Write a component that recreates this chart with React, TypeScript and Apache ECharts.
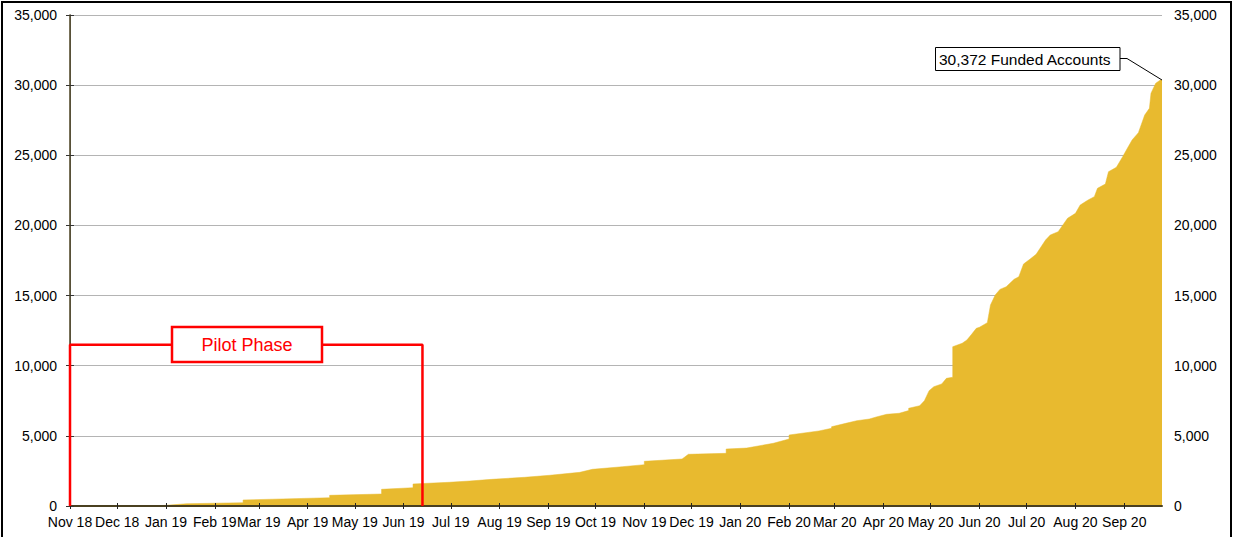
import React, { useEffect, useRef } from "react";
import * as echarts from "echarts";

const FONT = '"Liberation Sans", Arial, Helvetica, sans-serif';
const AREA_COLOR = "#E8BA2F";

// Cumulative funded accounts (date, value)
const accountDates = [
  "2018-11-01", "2018-12-26", "2019-01-14", "2019-02-19", "2019-02-19", "2019-04-15", "2019-04-15",
  "2019-05-18", "2019-05-18", "2019-06-07", "2019-06-07", "2019-06-30", "2019-07-13", "2019-07-27",
  "2019-08-17", "2019-09-02", "2019-09-21", "2019-09-29", "2019-10-18", "2019-11-01", "2019-11-01",
  "2019-11-25", "2019-11-29", "2019-12-23", "2019-12-23", "2020-01-05", "2020-01-22", "2020-02-01",
  "2020-02-01", "2020-02-20", "2020-02-28", "2020-02-28", "2020-03-08", "2020-03-15", "2020-03-23",
  "2020-03-28", "2020-04-03", "2020-04-11", "2020-04-17", "2020-04-17", "2020-04-24", "2020-04-27",
  "2020-04-30", "2020-05-03", "2020-05-08", "2020-05-11", "2020-05-15", "2020-05-15", "2020-05-21",
  "2020-05-24", "2020-05-27", "2020-05-30", "2020-06-01", "2020-06-06", "2020-06-08", "2020-06-11",
  "2020-06-14", "2020-06-18", "2020-06-23", "2020-06-26", "2020-06-29", "2020-07-03", "2020-07-07",
  "2020-07-13", "2020-07-16", "2020-07-21", "2020-07-27", "2020-08-01", "2020-08-04", "2020-08-09",
  "2020-08-13", "2020-08-15", "2020-08-20", "2020-08-22", "2020-08-27", "2020-08-31", "2020-09-03",
  "2020-09-06", "2020-09-10", "2020-09-14", "2020-09-17", "2020-09-18", "2020-09-21", "2020-09-24",
  "2020-09-25",
];
const accountValues = [
  0, 0, 160, 235, 430, 590, 760,
  855, 1190, 1305, 1570, 1690, 1780, 1900,
  2045, 2190, 2400, 2615, 2800, 2945, 3185,
  3350, 3685, 3755, 4060, 4130, 4470, 4775,
  5060, 5350, 5540, 5650, 5890, 6080, 6200,
  6365, 6535, 6610, 6800, 6965, 7150, 7505,
  8220, 8505, 8700, 9100, 9175, 11355, 11600,
  11830, 12240, 12665, 12740, 13070, 14330, 15040,
  15440, 15630, 16160, 16345, 17250, 17585, 17940,
  18960, 19320, 19550, 20510, 20860, 21455, 21810,
  22050, 22645, 22950, 23830, 24140, 24900, 25500,
  26090, 26610, 27870, 28350, 29420, 30130, 30372,
  30372,
];

// Pilot phase bracket
const pilotDates = ["2018-11-01", "2018-11-01", "2019-06-13", "2019-06-13"];
const pilotValues = [0, 11500, 11500, 0];

// X axis ticks
const monthStarts = [
  "2018-11-01", "2018-12-01", "2019-01-01", "2019-02-01", "2019-03-01", "2019-04-01", "2019-05-01",
  "2019-06-01", "2019-07-01", "2019-08-01", "2019-09-01", "2019-10-01", "2019-11-01", "2019-12-01",
  "2020-01-01", "2020-02-01", "2020-03-01", "2020-04-01", "2020-05-01", "2020-06-01", "2020-07-01",
  "2020-08-01", "2020-09-01",
];
const monthLabels = [
  "Nov 18", "Dec 18", "Jan 19", "Feb 19", "Mar 19", "Apr 19", "May 19",
  "Jun 19", "Jul 19", "Aug 19", "Sep 19", "Oct 19", "Nov 19", "Dec 19",
  "Jan 20", "Feb 20", "Mar 20", "Apr 20", "May 20", "Jun 20", "Jul 20",
  "Aug 20", "Sep 20",
];
const xMin = "2018-11-01";
const xMax = "2020-09-25";

const yMin = 0;
const yMax = 35000;
const yStep = 5000;

const annotationText = "30,372 Funded Accounts";
const pilotText = "Pilot Phase";

// days since xMin
function dayOf(s: string): number {
  const [y, m, d] = s.split("-").map(Number);
  const [y0, m0, d0] = xMin.split("-").map(Number);
  return Math.round((Date.UTC(y, m - 1, d) - Date.UTC(y0, m0 - 1, d0)) / 86400000);
}

export default function App() {
  const ref = useRef<HTMLDivElement>(null);

  useEffect(() => {
    document.body.style.margin = "0";
    if (!ref.current) return;
    const chart = echarts.init(ref.current, null, { renderer: "svg" });
    const monthDays = monthStarts.map(dayOf);
    const fmtX = (v: number) => {
      let best = 0;
      let bd = Infinity;
      monthDays.forEach((t, i) => {
        const d = Math.abs(t - v);
        if (d < bd) {
          bd = d;
          best = i;
        }
      });
      return monthLabels[best];
    };
    const fmtY = (v: number) => Number(v).toLocaleString("en-US");
    const axisLabelStyle = { fontFamily: FONT, fontSize: 14, color: "#000" };

    const option: any = {
      animation: false,
      backgroundColor: "#fff",
      grid: { left: 70, right: 72, top: 15, bottom: 31 },
      xAxis: [
        {
          type: "value",
          min: dayOf(xMin),
          max: dayOf(xMax),
          position: "bottom",
          z: 10,
          axisLine: { show: true, lineStyle: { color: "#4a4020", width: 2 } },
          axisTick: {
            show: true,
            customValues: monthDays,
            length: 3,
            inside: false,
            lineStyle: { color: "#222", width: 1 },
          },
          axisLabel: {
            show: true,
            customValues: monthDays,
            formatter: fmtX,
            hideOverlap: false,
            showMinLabel: true,
            showMaxLabel: true,
            margin: 9,
            ...axisLabelStyle,
          },
          splitLine: { show: false },
        },
        {
          type: "value",
          min: dayOf(xMin),
          max: dayOf(xMax),
          position: "bottom",
          z: 10,
          axisLine: { show: false },
          axisTick: {
            show: true,
            customValues: monthDays,
            length: 3,
            inside: true,
            lineStyle: { color: "#222", width: 1 },
          },
          axisLabel: { show: false },
          splitLine: { show: false },
        },
      ],
      yAxis: [
        {
          type: "value",
          min: yMin,
          max: yMax,
          interval: yStep,
          position: "left",
          axisLine: { show: true, lineStyle: { color: "#808080", width: 1 } },
          axisTick: { show: true, length: 4, lineStyle: { color: "#333" } },
          axisLabel: { formatter: fmtY, margin: 13, ...axisLabelStyle },
          splitLine: { show: true, lineStyle: { color: "#b4b4b4", width: 1 } },
        },
        {
          type: "value",
          min: yMin,
          max: yMax,
          interval: yStep,
          position: "right",
          z: 10,
          axisLine: { show: true, lineStyle: { color: "#4a4020", width: 1.5 } },
          axisTick: { show: true, length: 4, lineStyle: { color: "#333" } },
          axisLabel: { formatter: fmtY, margin: 12, ...axisLabelStyle },
          splitLine: { show: false },
        },
      ],
      series: [
        {
          type: "line",
          name: "Funded Accounts",
          xAxisIndex: 0,
          yAxisIndex: 0,
          data: accountDates.map((d, i) => [dayOf(d), accountValues[i]]),
          showSymbol: false,
          symbol: "none",
          lineStyle: { width: 0.5, color: AREA_COLOR },
          areaStyle: { color: AREA_COLOR, opacity: 1 },
          z: 2,
        },
        {
          type: "line",
          name: "Pilot Phase",
          xAxisIndex: 0,
          yAxisIndex: 0,
          data: pilotDates.map((d, i) => [dayOf(d), pilotValues[i]]),
          showSymbol: false,
          symbol: "none",
          clip: false,
          lineStyle: { width: 2.5, color: "#ff0000" },
          z: 12,
        },
      ],
      graphic: [
        {
          type: "rect",
          shape: { x: 2, y: 2, width: 1229, height: 600 },
          style: { fill: "none", stroke: "#000", lineWidth: 2 },
          silent: true,
          z: 100,
        },
        {
          type: "rect",
          shape: { x: 172, y: 327, width: 150, height: 35 },
          style: { fill: "#fff", stroke: "#ff0000", lineWidth: 2.5 },
          z: 100,
        },
        {
          type: "text",
          x: 247,
          y: 345,
          style: {
            text: pilotText,
            fill: "#ff0000",
            font: `18px ${FONT}`,
            align: "center",
            verticalAlign: "middle",
          },
          z: 101,
        },
        {
          type: "polyline",
          shape: { points: [[1120, 58.5], [1127, 58.5], [1162, 80]] },
          style: { stroke: "#000", lineWidth: 1, fill: "none" },
          z: 100,
        },
        {
          type: "rect",
          shape: { x: 935.5, y: 47.5, width: 184.5, height: 23 },
          style: { fill: "#fff", stroke: "#000", lineWidth: 1 },
          z: 100,
        },
        {
          type: "text",
          x: 939,
          y: 59.5,
          style: {
            text: annotationText,
            fill: "#000",
            font: `15.5px ${FONT}`,
            align: "left",
            verticalAlign: "middle",
          },
          z: 101,
        },
      ],
    };
    chart.setOption(option);
    return () => chart.dispose();
  }, []);

  return <div ref={ref} style={{ width: 1234, height: 537 }} />;
}
